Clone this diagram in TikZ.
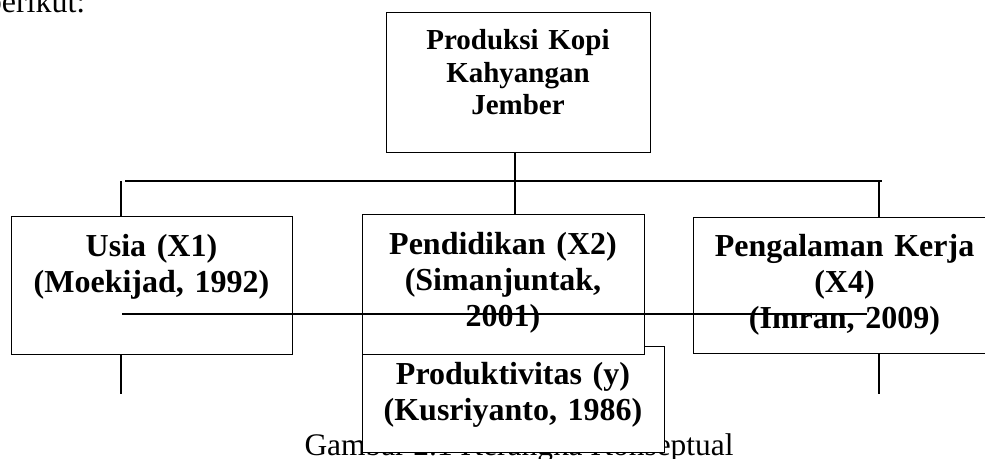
\documentclass[tikz,border=0pt]{standalone}
\usepackage{fontspec}
\setmainfont{Liberation Serif}

\begin{document}
\begin{tikzpicture}[x=0.5pt,y=-0.5pt,line width=0.65pt,
        kotak/.style={draw,fill=white,inner sep=0pt,anchor=north west},
        isi/.style={font=\bfseries\fontsize{16}{18}\selectfont,align=center,text width=150pt,inner sep=0pt,anchor=base}]
        \useasboundingbox(0,0)rectangle(985,459);

        \node[anchor=base east,inner sep=0pt,font=\fontsize{16}{18}\selectfont](pengantar)at(86,13){berikut:};
        \node[anchor=base,inner sep=0pt,font=\fontsize{15.7}{18}\selectfont](judul)at(519,456){Gambar 2.1 Kerangka Konseptual};

        \node[kotak,minimum width=132pt,minimum height=70pt](produksi)at(386,12){};
        \node[isi,font=\bfseries\fontsize{14.5}{16.2}\selectfont](produksiT)at(518,50){Produksi Kopi\\Kahyangan\\Jember};

        \node[kotak,minimum width=140.5pt,minimum height=69pt](usia)at(11,216){};
        \node[isi](usiaT)at(151.5,257){Usia (X1)\\(Moekijad, 1992)};

        \node[kotak,minimum width=151pt,minimum height=53pt](produktivitas)at(362,346){};
        \node[isi](produktivitasT)at(513,385){Produktivitas (y)\\(Kusriyanto, 1986)};

        \node[kotak,minimum width=141pt,minimum height=70pt](pendidikan)at(362,214){};
        \node[isi](pendidikanT)at(503,255){Pendidikan (X2)\\(Simanjuntak,\\2001)};

        \node[kotak,minimum width=155pt,minimum height=68pt](pengalaman)at(693,217){};
        \node[isi](pengalamanT)at(844.5,257){Pengalaman Kerja\\(X4)\\(Imran, 2009)};

        \coordinate(simpul)at(515,181);
        \coordinate(kiri)at(121,181);
        \coordinate(kanan)at(879,181);
        \coordinate(busKiri)at(125,181);
        \coordinate(busKanan)at(882,181);
        \coordinate(garisA)at(122,314);
        \coordinate(garisB)at(867,314);

        \draw(produksi.south-|simpul)--(pendidikan.north-|simpul);
        \draw(busKiri)--(busKanan);
        \draw(kiri)--(kiri|-usia.north);
        \draw(kanan)--(kanan|-pengalaman.north);
        \draw(kiri|-usia.south)--++(0,39);
        \draw(kanan|-pengalaman.south)--++(0,40);
        \draw(garisA)--(garisB);
    \end{tikzpicture}
\end{document}
